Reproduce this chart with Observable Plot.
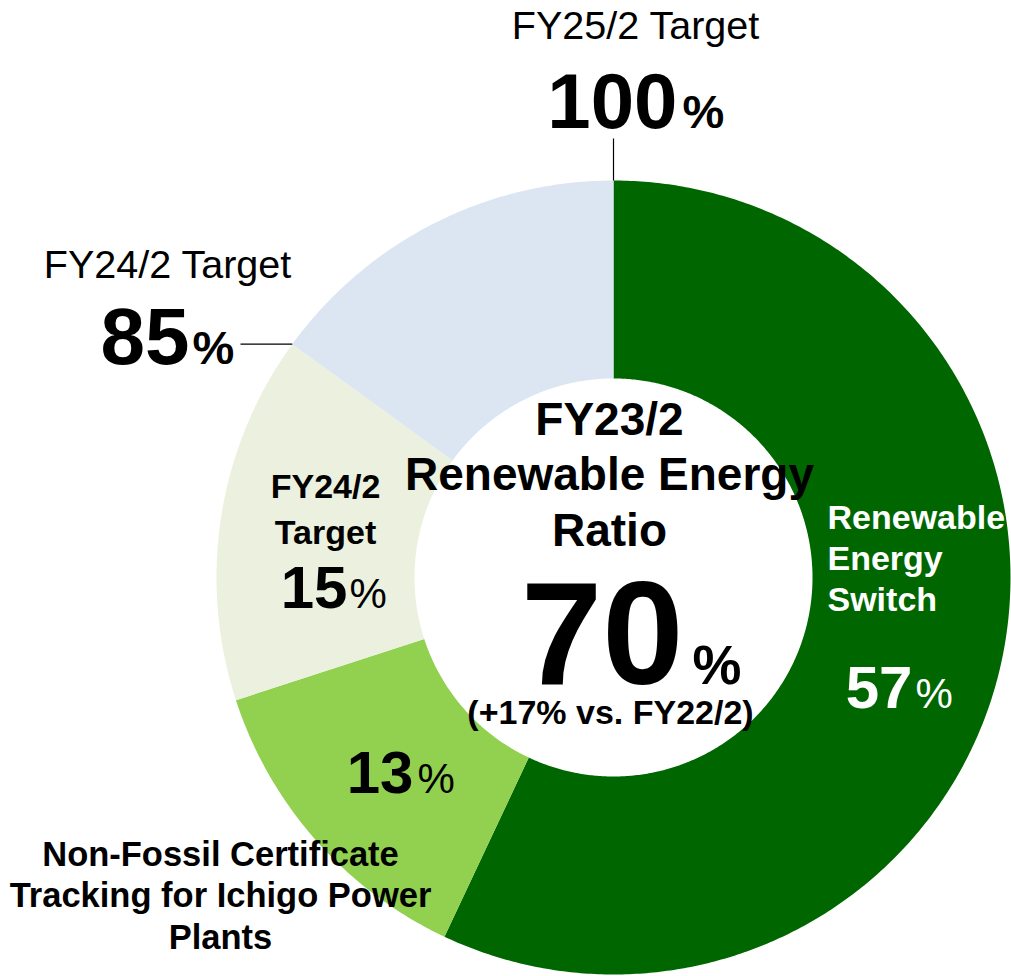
<!DOCTYPE html>
<html>
<head>
<meta charset="utf-8">
<script src="https://cdn.jsdelivr.net/npm/d3@7"></script>
<script src="https://cdn.jsdelivr.net/npm/@observablehq/plot@0.6"></script>
<style>
  html, body { margin: 0; padding: 0; background: #ffffff; }
  #chart svg { display: block; }
</style>
</head>
<body>
<div id="chart"></div>
<script>
// ---- data ----
const categories = ["Renewable Energy Switch", "Non-Fossil Certificate Tracking for Ichigo Power Plants", "FY24/2 Target", "FY25/2 Target"];
const shares = [57, 13, 15, 15];
const segmentColors = ["#006600", "#92D050", "#EBF1DE", "#DCE6F2"];

const ringLabels = ["Renewable\nEnergy\nSwitch", "Non-Fossil Certificate\nTracking for Ichigo Power\nPlants", "FY24/2\nTarget", ""];
const ringValues = ["57", "13", "15", ""];
const centerTitle = "FY23/2\nRenewable Energy\nRatio";
const centerValue = "70";
const centerNote = "(+17% vs. FY22/2)";
const targetTitles = ["FY25/2 Target", "FY24/2 Target"];
const targetValues = ["100", "85"];

// ---- geometry (pixel units relative to the donut centre) ----
const W = 1011, H = 976, CX = 613, CY = 577;
const R_OUT = 397, R_IN = 199;
const total = d3.sum(shares);

let acc = 0;
const segs = shares.map((v, i) => {
  const a0 = acc / total * 2 * Math.PI;
  acc += v;
  const a1 = acc / total * 2 * Math.PI;
  return {label: categories[i], a0, a1};
});

const pts = [];
for (const s of segs) {
  const n = Math.max(8, Math.ceil((s.a1 - s.a0) / (Math.PI / 360)));
  for (let k = 0; k <= n; k++) {
    const t = s.a0 + (s.a1 - s.a0) * k / n;
    pts.push({label: s.label, x: R_OUT * Math.sin(t), y: -R_OUT * Math.cos(t)});
  }
  for (let k = n; k >= 0; k--) {
    const t = s.a0 + (s.a1 - s.a0) * k / n;
    pts.push({label: s.label, x: R_IN * Math.sin(t), y: -R_IN * Math.cos(t)});
  }
}

// leader lines from the target boundaries
const bTop = segs[3].a1;      // 100% boundary
const bLeft = segs[2].a1;     // 85% boundary
const leaders = [
  {x1: R_OUT * Math.sin(bTop), y1: -R_OUT * Math.cos(bTop), x2: R_OUT * Math.sin(bTop), y2: -439},
  {x1: R_OUT * Math.sin(bLeft), y1: -R_OUT * Math.cos(bLeft), x2: -373, y2: -R_OUT * Math.cos(bLeft)}
];

const FONT = "'Liberation Sans', Arial, Helvetica, sans-serif";
const T = (x, y, text, o) => Plot.text([{x, y, text}], {x: "x", y: "y", text: "text", lineAnchor: "bottom", fontFamily: FONT, fill: "#000", ...o});

const chart = Plot.plot({
  width: W,
  height: H,
  margin: 0,
  x: {domain: [-CX, W - CX], range: [0, W], axis: null},
  y: {domain: [-CY, H - CY], range: [0, H], axis: null},
  color: {domain: categories, range: segmentColors},
  style: {background: "#ffffff", fontFamily: FONT},
  marks: [
    Plot.line(pts, {x: "x", y: "y", z: "label", fill: "label", stroke: "none", curve: "linear"}),
    Plot.link(leaders, {x1: "x1", y1: "y1", x2: "x2", y2: "y2", stroke: "#000", strokeWidth: 1.2}),

    // top target
    T(22, -539, targetTitles[0], {fontSize: 39.5, textAnchor: "middle"}),
    T(64, -450, targetValues[0], {fontSize: 78, fontWeight: "bold", textAnchor: "end"}),
    T(69, -450, "%", {fontSize: 47, fontWeight: "bold", textAnchor: "start"}),

    // left target
    T(-446, -300, targetTitles[1], {fontSize: 39.5, textAnchor: "middle"}),
    T(-424, -214, targetValues[1], {fontSize: 80, fontWeight: "bold", textAnchor: "end"}),
    T(-421, -214, "%", {fontSize: 47, fontWeight: "bold", textAnchor: "start"}),

    // centre
    T(-4, -32, centerTitle, {fontSize: 46, fontWeight: "bold", textAnchor: "middle", lineHeight: 1.2}),
    T(70, 106, centerValue, {fontSize: 146, fontWeight: "bold", textAnchor: "end"}),
    T(79, 106, "%", {fontSize: 55, fontWeight: "bold", textAnchor: "start"}),
    T(-3, 146, centerNote, {fontSize: 34, fontWeight: "bold", textAnchor: "middle"}),

    // ring labels
    T(214, 33, ringLabels[0], {fontSize: 34, fontWeight: "bold", textAnchor: "start", lineHeight: 1.2, fill: "#ffffff"}),
    T(299, 130, ringValues[0], {fontSize: 60, fontWeight: "bold", textAnchor: "end", fill: "#ffffff"}),
    T(302, 130, "%", {fontSize: 42, textAnchor: "start", fill: "#ffffff"}),

    T(-288, -34, ringLabels[2], {fontSize: 34, fontWeight: "bold", textAnchor: "middle", lineHeight: 1.33}),
    T(-266, 30, ringValues[2], {fontSize: 60, fontWeight: "bold", textAnchor: "end"}),
    T(-264, 30, "%", {fontSize: 42, textAnchor: "start"}),

    T(-200, 215, ringValues[1], {fontSize: 60, fontWeight: "bold", textAnchor: "end"}),
    T(-196, 215, "%", {fontSize: 42, textAnchor: "start"}),
    T(-393, 371, ringLabels[1], {fontSize: 34.5, fontWeight: "bold", textAnchor: "middle", lineHeight: 1.19})
  ]
});

document.getElementById("chart").appendChild(chart);
</script>
</body>
</html>
